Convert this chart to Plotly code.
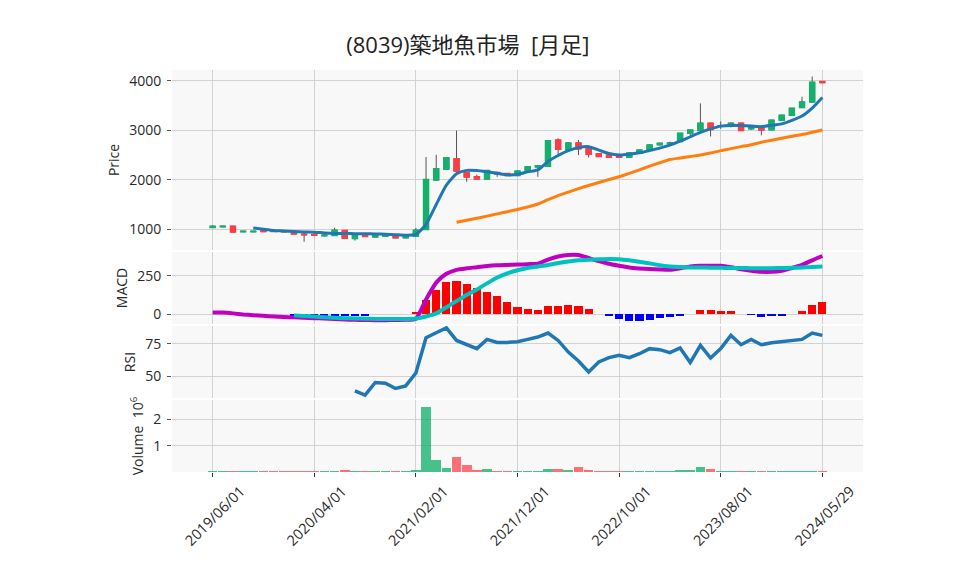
import pandas as pd
import plotly.graph_objects as go
from plotly.subplots import make_subplots

# month labels (category axis), last one is the latest day
dates = [d.strftime('%Y/%m/%d') for d in pd.date_range('2019-06-01', '2024-05-01', freq='MS')] + ['2024/05/29']

open_ = [1035, 1050, 1060, 950, 950, 968, 962, 958, 940, 900,
         890, 868, 875, 975, 810, 900, 845, 860, 855, 825,
         860, 995, 1995, 2215, 2425, 2145, 2060, 2015, 2145, 2125,
         2085, 2170, 2260, 2275, 2805, 2615, 2745, 2625, 2525, 2500,
         2485, 2455, 2535, 2600, 2710, 2730, 2775, 2940, 2995, 3145,
         3080, 3080, 3145, 3030, 3060, 3010, 3205, 3305, 3460, 3575, 3985]
high = [1085, 1070, 1065, 965, 968, 975, 970, 965, 950, 925,
        920, 895, 1030, 985, 895, 910, 905, 880, 865, 860,
        1025, 2460, 2505, 2450, 2995, 2160, 2105, 2200, 2160, 2135,
        2190, 2275, 2300, 2800, 2840, 2760, 2805, 2640, 2535, 2510,
        2495, 2555, 2610, 2715, 2745, 2770, 2945, 3010, 3545, 3150,
        3180, 3160, 3150, 3100, 3070, 3215, 3315, 3450, 3680, 4090, 3990]
low = [1025, 1040, 935, 940, 940, 945, 945, 940, 900, 745,
       860, 855, 865, 805, 770, 850, 835, 850, 815, 815,
       850, 990, 1990, 2210, 2125, 1960, 2010, 2010, 2060, 2075,
       2080, 2160, 2060, 2270, 2460, 2600, 2500, 2450, 2460, 2440,
       2445, 2445, 2525, 2590, 2690, 2700, 2770, 2900, 2990, 2875,
       3030, 3060, 2990, 3010, 2900, 3000, 3200, 3300, 3450, 3560, 3955]
close = [1058, 1060, 945, 958, 958, 952, 955, 950, 905, 890,
         880, 880, 980, 815, 885, 855, 895, 870, 825, 850,
         980, 2005, 2225, 2445, 2175, 2055, 2015, 2185, 2115, 2085,
         2175, 2265, 2285, 2790, 2615, 2745, 2625, 2515, 2470, 2455,
         2455, 2540, 2600, 2705, 2738, 2745, 2940, 3005, 3145, 3015,
         3095, 3145, 2995, 3090, 3005, 3205, 3305, 3445, 3575, 3970, 3965]

ma_short = [None] * 4 + [1025, 1000, 975, 965, 955, 945, 940, 925, 915, 912,
                         910, 908, 905, 900, 890, 880, 895, 1100, 1500, 1890,
                         2120, 2190, 2185, 2160, 2130, 2100, 2110, 2160, 2200, 2370,
                         2490, 2590, 2650, 2670, 2600, 2530, 2500, 2515, 2545, 2590,
                         2640, 2700, 2780, 2870, 2960, 3030, 3085, 3100, 3095, 3085,
                         3075, 3100, 3130, 3200, 3290, 3450, 3665]
ma_long = [None] * 24 + [1140, 1180, 1220, 1265, 1310, 1355, 1400, 1450, 1510, 1600,
                         1680, 1750, 1820, 1885, 1945, 2005, 2060, 2130, 2200, 2275,
                         2345, 2410, 2440, 2470, 2500, 2540, 2590, 2630, 2670, 2710,
                         2760, 2800, 2840, 2880, 2915, 2960, 3005]

macd = [11, 10, 5, -2, -7, -11, -15, -18, -21, -24,
        -26, -29, -32, -35, -37, -38, -39, -39, -38, -37,
        -30, 95, 205, 262, 288, 298, 305, 313, 318, 320,
        322, 325, 328, 355, 375, 385, 385, 365, 345, 328,
        315, 303, 297, 293, 290, 288, 298, 310, 314, 314,
        314, 305, 292, 282, 275, 275, 282, 300, 320, 350, 378]
signal = [None] * 8 + [-8, -12, -16, -20, -23, -26, -28, -30, -31, -32,
                       -32, -32, -28, -15, 5, 45, 85, 125, 160, 200,
                       238, 265, 285, 300, 310, 320, 332, 342, 350, 354,
                       357, 358, 357, 350, 340, 330, 318, 310, 306, 304,
                       303, 302, 301, 300, 300, 299, 299, 299, 300, 301,
                       303, 306, 310]
hist = [None] * 8 + [-6, -6, -6, -6, -6, -6, -6, -6, 0, 0,
                     0, 0, 13, 90, 156, 207, 218, 199, 173, 147,
                     115, 79, 45, 34, 26, 52, 52, 59, 52, 31,
                     0, -10, -30, -43, -43, -36, -22, -17, -6, 0,
                     26, 26, 19, 19, 0, -3, -17, -9, -6, 0,
                     21, 58, 79]

rsi = [None] * 14 + [38.8, 35.5, 45.2, 44.6, 40.6, 42.6, 52.5,
                     79.6, 83.4, 87.2, 77.5, 74.2, 71.2, 78.3, 76.0, 76.0, 76.5,
                     78.3, 80.1, 83.2, 77.5, 68.6, 61.7, 53.3, 61.0, 64.3, 66.1,
                     64.3, 67.3, 71.2, 70.4, 68.1, 71.7, 60.5, 73.7, 64.0, 71.2,
                     81.4, 74.2, 78.3, 74.2, 75.8, 76.8, 77.5, 78.3, 83.2, 81.4]

# volume in 10^6 shares
volume = [0.03, 0.02, 0.03, 0.02, 0.02, 0.02, 0.02, 0.02, 0.02, 0.03,
          0.02, 0.02, 0.03, 0.07, 0.03, 0.03, 0.02, 0.03, 0.03, 0.03,
          0.07, 2.48, 0.44, 0.15, 0.56, 0.25, 0.07, 0.11, 0.03, 0.03,
          0.05, 0.05, 0.05, 0.11, 0.11, 0.06, 0.19, 0.07, 0.03, 0.03,
          0.02, 0.02, 0.03, 0.03, 0.02, 0.03, 0.06, 0.06, 0.19, 0.11,
          0.05, 0.03, 0.03, 0.03, 0.03, 0.04, 0.05, 0.05, 0.05, 0.05, 0.03]

tick_labels = [dates[i] for i in (0, 10, 20, 30, 40, 50, 60)]

UP = '#16b06d'
DOWN = '#ff3b43'
FONT = 'Open Sans, Noto Sans CJK JP'

fig = make_subplots(rows=4, cols=1, shared_xaxes=True,
                    row_heights=[2.5, 1, 1, 1], vertical_spacing=0.005)

# wicks (dark) first, coloured bodies on top
fig.add_trace(go.Candlestick(x=dates, open=open_, high=high, low=low, close=close,
                             increasing=dict(line=dict(color='#555555', width=1), fillcolor='#555555'),
                             decreasing=dict(line=dict(color='#555555', width=1), fillcolor='#555555'),
                             hoverinfo='skip'), row=1, col=1)
body_hi = [max(o, c) for o, c in zip(open_, close)]
body_lo = [min(o, c) for o, c in zip(open_, close)]
fig.add_trace(go.Candlestick(x=dates, open=open_, high=body_hi, low=body_lo, close=close,
                             increasing=dict(line=dict(color=UP, width=1.5), fillcolor=UP),
                             decreasing=dict(line=dict(color=DOWN, width=1.5), fillcolor=DOWN)),
              row=1, col=1)
fig.add_trace(go.Scatter(x=dates, y=ma_short, mode='lines', line=dict(color='#1f77b4', width=3, shape='spline', smoothing=0.6)), row=1, col=1)
fig.add_trace(go.Scatter(x=dates, y=ma_long, mode='lines', line=dict(color='#ff7f0e', width=3, shape='spline', smoothing=0.6)), row=1, col=1)

hist_colors = ['#ff0000' if (h is not None and h >= 0) else '#0000ff' for h in hist]
fig.add_trace(go.Bar(x=dates, y=hist, marker=dict(color=hist_colors, line=dict(width=0)), width=0.8), row=2, col=1)
fig.add_trace(go.Scatter(x=dates, y=macd, mode='lines', line=dict(color='#c000c0', width=4, shape='spline', smoothing=0.6)), row=2, col=1)
fig.add_trace(go.Scatter(x=dates, y=signal, mode='lines', line=dict(color='#00c0c0', width=4, shape='spline', smoothing=0.6)), row=2, col=1)

fig.add_trace(go.Scatter(x=dates, y=rsi, mode='lines', line=dict(color='#1f77b4', width=3.5)), row=3, col=1)

vol_colors = ['rgba(22,176,109,0.78)' if c >= o else 'rgba(255,59,67,0.72)' for o, c in zip(open_, close)]
fig.add_trace(go.Bar(x=dates, y=volume, marker=dict(color=vol_colors, line=dict(width=0)), width=0.95), row=4, col=1)

fig.update_layout(
    width=958, height=575,
    margin=dict(l=164, r=103, t=62, b=111),
    paper_bgcolor='white', plot_bgcolor='#f8f8f8',
    font=dict(family=FONT, size=14, color='#2a2a2a'),
    title=dict(text='(8039)築地魚市場&nbsp;&nbsp;[月足]', x=0.48, xanchor='center',
               y=1 - 37 / 575, yanchor='middle',
               font=dict(family=FONT, size=22, color='#222222')),
    showlegend=False, bargap=0,
)
for r in range(1, 5):
    fig.update_xaxes(type='category', range=[-4, 64], tickvals=tick_labels,
                     showgrid=True, gridcolor='#d2d2d2', gridwidth=1,
                     rangeslider=dict(visible=False), showline=False, zeroline=False,
                     showticklabels=(r == 4), ticks='outside' if r == 4 else '',
                     ticklen=4, tickcolor='#333333', tickangle=-45, row=r, col=1)
    fig.update_yaxes(showgrid=True, gridcolor='#d2d2d2', gridwidth=1, zeroline=False,
                     ticks='outside', ticklen=4, tickcolor='#555555',
                     ticklabelstandoff=3,
                     title_font=dict(size=14), title_standoff=6, row=r, col=1)

fig.update_xaxes(ticklabelshift=28, tickfont=dict(size=14.5), row=4, col=1)

fig.update_yaxes(title_text='Price', range=[580, 4220], tickvals=[1000, 2000, 3000, 4000], row=1, col=1)
fig.update_yaxes(title_text='MACD', range=[-64, 404], tickvals=[0, 250], row=2, col=1)
fig.update_yaxes(title_text='RSI', range=[33.3, 88.6], tickvals=[50, 75], row=3, col=1)
fig.update_yaxes(title_text='Volume  10<sup>6</sup>', range=[0, 2.74], tickvals=[1, 2], row=4, col=1)

fig.write_html("out.html")
